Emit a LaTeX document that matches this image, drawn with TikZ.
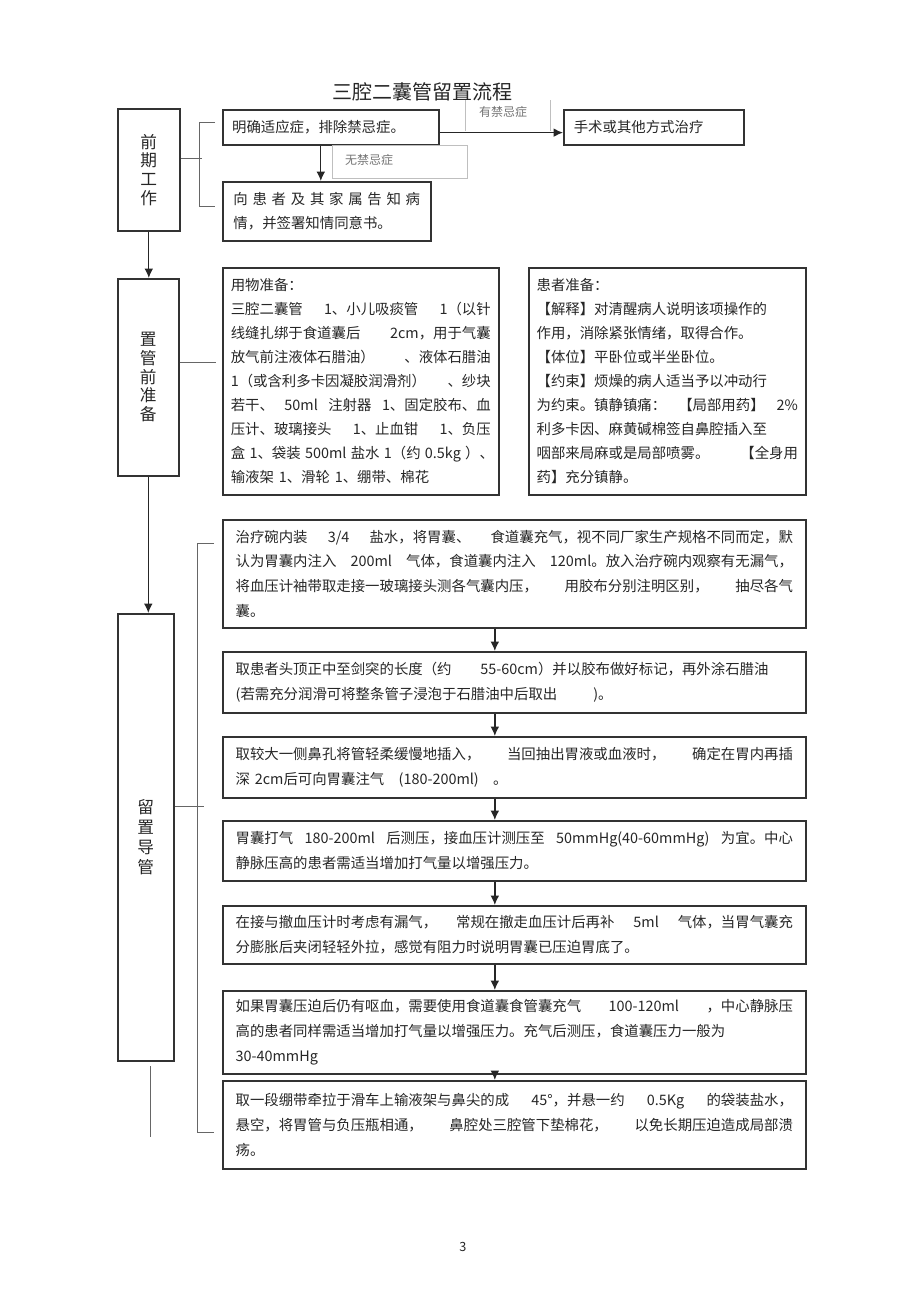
\documentclass[tikz,border=0pt]{standalone}
\usepackage{fontspec}
\setmainfont{Noto Sans CJK SC}
\usetikzlibrary{arrows.meta}
\setlength\parindent{0pt}
\newcommand\jl[1]{\makebox[\hsize][s]{\spaceskip=0.3em plus 1fil\xspaceskip=0.3em plus 1fil\relax #1}}
\newcommand\fs{\fontsize{10.8}{18.5}\selectfont}
\newcommand\fsb{\fontsize{10.8}{18}\selectfont}
\begin{document}
\begin{tikzpicture}[x=0.75pt,y=-0.75pt,>={Latex[length=7pt,width=6.5pt]},
  every node/.style={text=black!85},
  stepbox/.style={draw=black!80,line width=1.2pt,anchor=north west,inner xsep=7pt,inner ysep=0pt,align=left,font=\fs},
  sidebox/.style={draw=black!80,line width=1.2pt,anchor=north west,inner sep=0pt,align=center,font=\fontsize{12.5}{14}\selectfont},
  link/.style={draw=black!85,line width=1pt},
  tie/.style={draw=black!60,line width=0.75pt},
  note/.style={text=black!55,font=\fontsize{9}{10}\selectfont},
  noteline/.style={draw=black!25,line width=0.5pt}]
\def\pw{437.25pt}
\def\tw{418pt}
\useasboundingbox (0,0) rectangle (920,1303);
\node[font=\fontsize{15}{16}\selectfont] (title) at (422,92) {三腔二囊管留置流程};
% qianqi
\node[sidebox,minimum width=46.5pt,minimum height=91.5pt] (qq) at (117,108) {前\\期\\工\\作};
\node[stepbox,text width=148pt,minimum width=162pt,minimum height=26.25pt] (qa) at (222,109) {明确适应症，排除禁忌症。};
\node[stepbox,text width=120pt,minimum width=135pt,minimum height=26.25pt] (qb) at (563,109) {手术或其他方式治疗};
\node[stepbox,text width=140pt,minimum width=156pt,minimum height=44.25pt] (qc) at (222,181) {\jl{向 患 者 及 其 家 属 告 知 病}\\情，并签署知情同意书。};
\draw[noteline] (465,100) -- (465,131) (550,100) -- (550,131);
\node[note] (yes) at (503,112) {有禁忌症};
\draw[noteline] (332,178) rectangle (467,145);
\node[note] (no) at (369,160) {无禁忌症};
\draw[link,->] ([yshift=-4pt]qa.east) -- ([yshift=-4pt]qb.west);
\draw[link,->] ([xshift=-7.5pt]qa.south) -- ([xshift=-7.5pt]qa.south |- qc.north);
\coordinate (qtop) at (199,122);
\coordinate (qbot) at (199,206);
\draw[tie] ([yshift=8.25pt]qq.east) -- ++(21,0);
\draw[tie] ([xshift=12pt]qtop) -- (qtop) -- (qbot) -- ([xshift=12pt]qbot);
% zhiguan qian
\node[sidebox,minimum width=45.75pt,minimum height=147.75pt] (zg) at (117,278) {置\\管\\前\\准\\备};
\draw[link,->] (qq.south) -- (qq.south |- zg.north);
\node[stepbox,font=\fsb,inner xsep=6pt,text width=195pt,minimum width=207pt,minimum height=170.25pt] (wu) at (222,267) {用物准备：\\
\jl{三腔二囊管 1、小儿吸痰管 1（以针}\\
\jl{线缝扎绑于食道囊后 2cm，用于气囊}\\
\jl{放气前注液体石腊油） 、液体石腊油}\\
\jl{1（或含利多卡因凝胶润滑剂） 、纱块}\\
\jl{若干、 50ml 注射器 1、固定胶布、血}\\
\jl{压计、玻璃接头 1、止血钳 1、负压}\\
\jl{盒 1、袋装 500ml 盐水 1（约 0.5kg ）、}\\
输液架 1、滑轮 1、绷带、棉花};
\node[stepbox,font=\fsb,inner xsep=5.5pt,text width=196pt,minimum width=207.75pt,minimum height=170.25pt] (hz) at (528,267) {患者准备：\\
【解释】对清醒病人说明该项操作的\\
作用，消除紧张情绪，取得合作。\\
【体位】平卧位或半坐卧位。\\
【约束】烦燥的病人适当予以冲动行\\
\jl{为约束。镇静镇痛： 【局部用药】 2\%}\\
利多卡因、麻黄碱棉签自鼻腔插入至\\
\jl{咽部来局麻或是局部喷雾。 【全身用}\\
药】充分镇静。};
\draw[tie] ([yshift=10.9pt]zg.east) -- ++(36,0);
% liuzhi
\node[sidebox,font=\fontsize{12.5}{15}\selectfont,minimum width=42pt,minimum height=335.25pt] (lz) at (117,613) {留\\置\\导\\管};
\draw[link,->] (zg.south) -- (zg.south |- lz.north);
\coordinate (ltA) at (150,1066);
\coordinate (ltB) at (150,1137);
\draw[tie] (ltA) -- (ltB);
\coordinate (ltop) at (197,543);
\coordinate (lbot) at (197,1132);
\draw[tie] ([xshift=12.75pt]ltop) -- (ltop) -- (lbot) -- ([xshift=12.75pt]lbot);
\draw[tie] ([yshift=22.9pt]lz.east) -- ++(29,0);
\node[stepbox,text width=\tw,minimum width=\pw,minimum height=81pt] (p1) at (222,519) {\jl{治疗碗内装 3/4 盐水，将胃囊、 食道囊充气，视不同厂家生产规格不同而定，默}\\
\jl{认为胃囊内注入 200ml 气体，食道囊内注入 120ml。放入治疗碗内观察有无漏气，}\\
\jl{将血压计袖带取走接一玻璃接头测各气囊内压， 用胶布分别注明区别， 抽尽各气}\\
囊。};
\node[stepbox,text width=\tw,minimum width=\pw,minimum height=45.75pt] (p2) at (222,651) {取患者头顶正中至剑突的长度（约\hspace{2em}55-60cm）并以胶布做好标记，再外涂石腊油\\
(若需充分润滑可将整条管子浸泡于石腊油中后取出\hspace{2.5em})。};
\node[stepbox,text width=\tw,minimum width=\pw,minimum height=45.75pt] (p3) at (222,736) {\jl{取较大一侧鼻孔将管轻柔缓慢地插入， 当回抽出胃液或血液时， 确定在胃内再插}\\
深 2cm后可向胃囊注气\hspace{1em}(180-200ml)\hspace{1em}。};
\node[stepbox,text width=\tw,minimum width=\pw,minimum height=45pt] (p4) at (222,820) {\jl{胃囊打气 180-200ml 后测压，接血压计测压至 50mmHg(40-60mmHg) 为宜。中心}\\
静脉压高的患者需适当增加打气量以增强压力。};
\node[stepbox,text width=\tw,minimum width=\pw,minimum height=43.5pt] (p5) at (222,905) {\jl{在接与撤血压计时考虑有漏气， 常规在撤走血压计后再补 5ml 气体，当胃气囊充}\\
分膨胀后夹闭轻轻外拉，感觉有阻力时说明胃囊已压迫胃底了。};
\node[stepbox,text width=\tw,minimum width=\pw,minimum height=62.25pt] (p6) at (222,990) {\jl{如果胃囊压迫后仍有呕血，需要使用食道囊食管囊充气 100-120ml ，中心静脉压}\\
高的患者同样需适当增加打气量以增强压力。充气后测压，食道囊压力一般为\\
30-40mmHg};
\node[stepbox,text width=\tw,minimum width=\pw,minimum height=66pt] (p7) at (222,1080) {\jl{取一段绷带牵拉于滑车上输液架与鼻尖的成 45°，并悬一约 0.5Kg 的袋装盐水，}\\
\jl{悬空，将胃管与负压瓶相通， 鼻腔处三腔管下垫棉花， 以免长期压迫造成局部溃}\\
疡。};
\foreach \a/\b in {p1/p2,p2/p3,p3/p4,p4/p5,p5/p6,p6/p7}
  \draw[link,->] ([xshift=-14.6pt]\a.south) -- ([xshift=-14.6pt]\a.south |- \b.north);
\node[font=\fontsize{9.5}{10}\selectfont] (pg) at (463,1247) {3};
\end{tikzpicture}
\end{document}
